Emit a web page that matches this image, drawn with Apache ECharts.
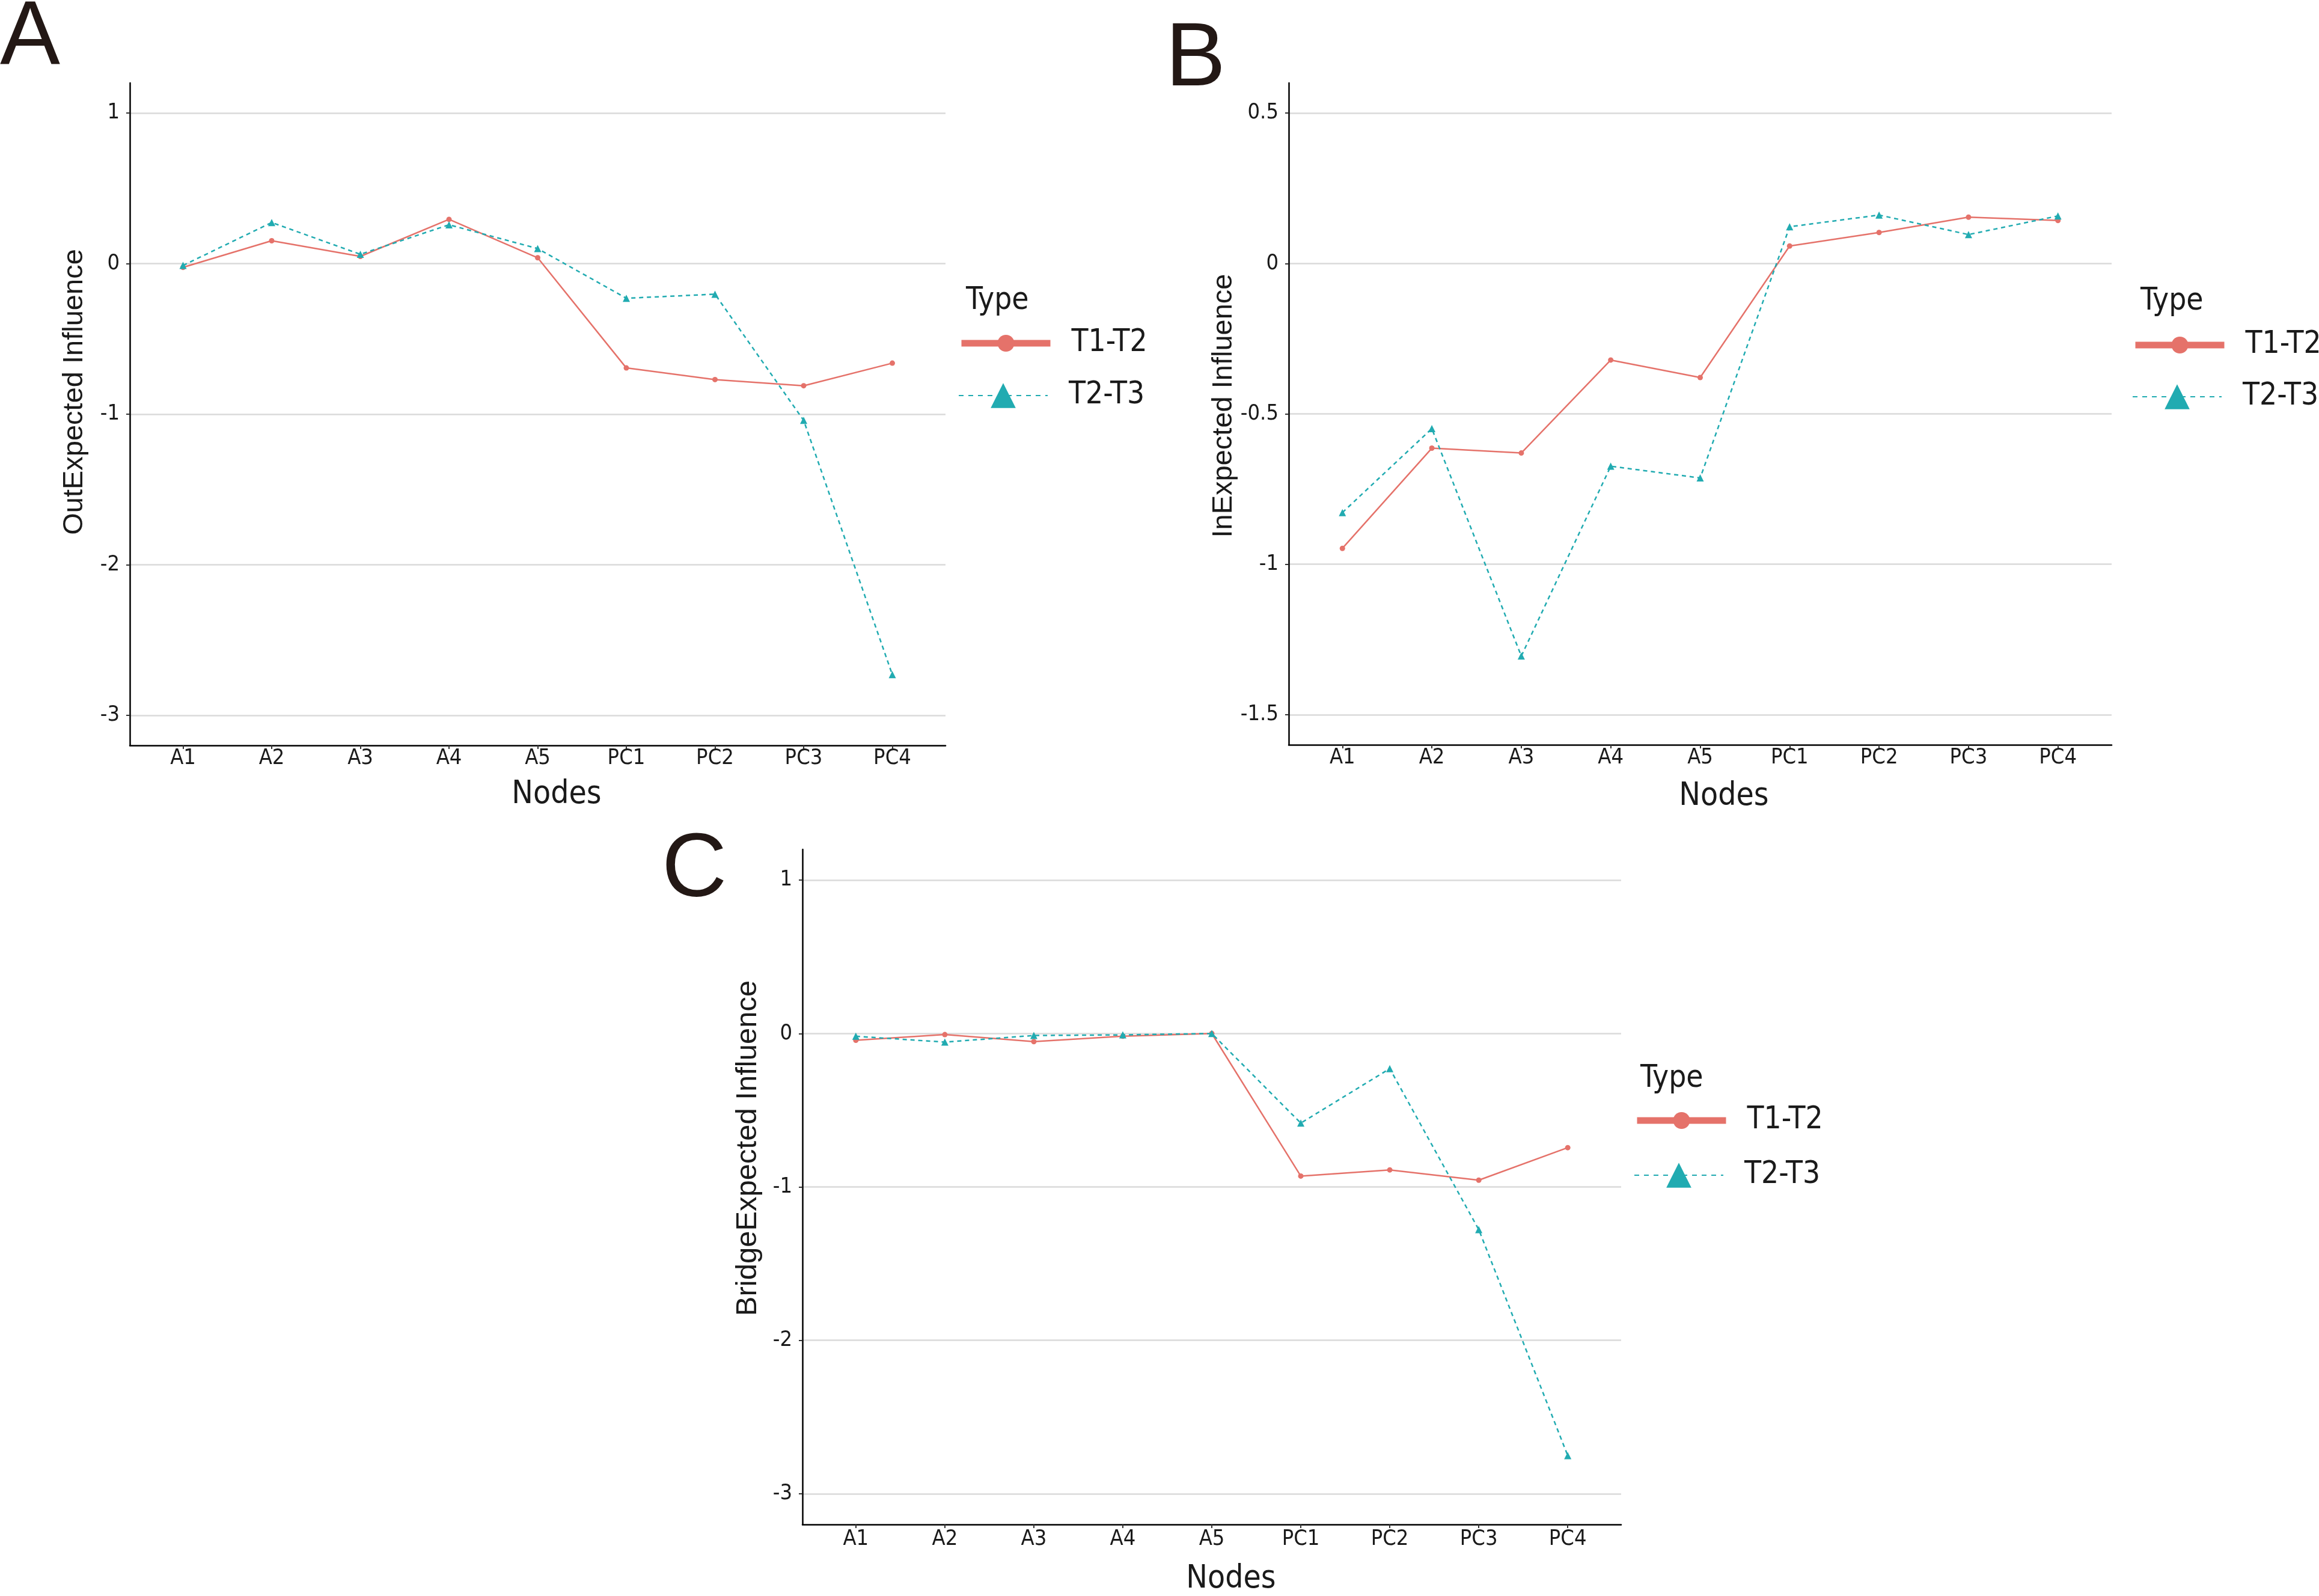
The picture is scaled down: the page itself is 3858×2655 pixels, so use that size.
<!DOCTYPE html>
<html>
<head>
<meta charset="utf-8">
<script src="https://cdn.jsdelivr.net/npm/echarts@6/dist/echarts.min.js"></script>
<style>
html,body{margin:0;padding:0;background:#ffffff;}
#chart{width:3858px;height:2655px;}
</style>
</head>
<body>
<div id="chart"></div>
<script>
// ---------------- data ----------------
const nodes = ['A1','A2','A3','A4','A5','PC1','PC2','PC3','PC4'];
const seriesNames = ['T1-T2','T2-T3'];

const outT12 = [-0.025, 0.152, 0.048, 0.294, 0.039, -0.693, -0.770, -0.811, -0.661];
const outT23 = [-0.012, 0.273, 0.062, 0.258, 0.100, -0.230, -0.203, -1.041, -2.730];

const inT12 = [-0.947, -0.614, -0.630, -0.321, -0.379, 0.058, 0.103, 0.154, 0.143];
const inT23 = [-0.828, -0.549, -1.305, -0.674, -0.713, 0.122, 0.161, 0.096, 0.158];

const bridgeT12 = [-0.044, -0.007, -0.053, -0.018, 0.000, -0.929, -0.889, -0.956, -0.744];
const bridgeT23 = [-0.018, -0.056, -0.013, -0.009, 0.000, -0.584, -0.229, -1.278, -2.751];

const yTicksOut = [-3, -2, -1, 0, 1];
const yTicksIn = [-1.5, -1, -0.5, 0, 0.5];
const yTicksBridge = [-3, -2, -1, 0, 1];

const panelLetters = ['A', 'B', 'C'];
const yTitles = ['OutExpected Influence', 'InExpected Influence', 'BridgeExpected Influence'];
const xTitle = 'Nodes';
const legendTitle = 'Type';

// ---------------- styling / layout ----------------
const RED = '#E5726A';
const TEAL = '#21ABB1';
const REG = "'Liberation Sans', Arial, Helvetica, sans-serif";
const NARROW = "'Liberation Sans Narrow', 'Arial Narrow', 'DejaVu Sans Condensed', sans-serif";
const INK = '#1a1a1a';

const panels = [
  { grid: {left: 216, top: 138, width: 1357, height: 1102}, yMin: -3.2, yMax: 1.2, ticks: yTicksOut,
    t12: outT12, t23: outT23, yNameGap: 68, yNamePad: 74, yNameSize: 47,
    xNameGap: 55, xNamePad: 63, xLabelMargin: 4,
    letter: {x: 0, y: 65}, type: {x: 1607, y: 501}, leg: {x: 1594, y1: 571, y2: 658} },
  { grid: {left: 2144, top: 138, width: 1369, height: 1101}, yMin: -1.6, yMax: 0.6, ticks: yTicksIn,
    t12: inT12, t23: inT23, yNameGap: 70, yNamePad: 27, yNameSize: 47,
    xNameGap: 59, xNamePad: 79, xLabelMargin: 4,
    letter: {x: 1939, y: 101}, type: {x: 3561, y: 502}, leg: {x: 3547, y1: 574, y2: 660} },
  { grid: {left: 1335, top: 1413, width: 1362, height: 1137}, yMin: -3.2, yMax: 1.2, ticks: yTicksBridge,
    t12: bridgeT12, t23: bridgeT23, yNameGap: 66, yNamePad: 129, yNameSize: 49,
    xNameGap: 64, xNamePad: 64, xLabelMargin: 7,
    letter: {x: 1101, y: 1450}, type: {x: 2729, y: 1795}, leg: {x: 2718, y1: 1864, y2: 1955} }
];

const grids = [], xAxes = [], yAxes = [], series = [], legends = [], graphics = [];

panels.forEach((p, k) => {
  grids.push(Object.assign({containLabel: false}, p.grid));
  xAxes.push({
    gridIndex: k, type: 'value', min: -0.6, max: 8.6,
    name: xTitle, nameLocation: 'middle', nameGap: p.xNameGap,
    nameTextStyle: {fontFamily: NARROW, fontSize: 53, lineHeight: 54, color: INK, padding: [0, 0, 0, p.xNamePad]},
    axisLine: {show: true, onZero: false, lineStyle: {color: '#000', width: 2.5}},
    axisTick: {show: true, length: 6, customValues: nodes.map((_, i) => i), lineStyle: {color: '#333', width: 2}},
    axisLabel: {show: true, customValues: nodes.map((_, i) => i), margin: p.xLabelMargin,
      fontFamily: NARROW, fontSize: 36, lineHeight: 36, color: INK,
      formatter: v => nodes[Math.round(v)] || ''},
    splitLine: {show: false}
  });
  yAxes.push({
    gridIndex: k, type: 'value', min: p.yMin, max: p.yMax,
    name: yTitles[k], nameLocation: 'middle', nameGap: p.yNameGap,
    nameTextStyle: {fontFamily: REG, fontSize: p.yNameSize, lineHeight: p.yNameSize, color: INK, padding: [0, 0, 0, p.yNamePad]},
    axisLine: {show: true, onZero: false, lineStyle: {color: '#000', width: 2.5}},
    axisTick: {show: true, length: 6, customValues: p.ticks, lineStyle: {color: '#333', width: 2}},
    axisLabel: {show: true, customValues: p.ticks, margin: 17, fontFamily: NARROW, fontSize: 36, color: INK,
      formatter: v => String(v)},
    splitLine: {show: true, lineStyle: {color: '#DADADA', width: 2.5}}
  });
  series.push({
    name: seriesNames[0], type: 'line', xAxisIndex: k, yAxisIndex: k,
    data: nodes.map((n, i) => [i, p.t12[i]]),
    symbol: 'circle', symbolSize: 9, showSymbol: true,
    itemStyle: {color: RED}, lineStyle: {color: RED, width: 2.5, type: 'solid'},
    emphasis: {disabled: true}, animation: false, z: 3
  });
  series.push({
    name: seriesNames[1], type: 'line', xAxisIndex: k, yAxisIndex: k,
    data: nodes.map((n, i) => [i, p.t23[i]]),
    symbol: 'triangle', symbolSize: 12, showSymbol: true,
    itemStyle: {color: TEAL}, lineStyle: {color: TEAL, width: 2.5, type: [7, 6]},
    emphasis: {disabled: true}, animation: false, z: 4
  });
  legends.push({
    data: [seriesNames[0]], left: p.leg.x, top: p.leg.y1 - 30, padding: 0, orient: 'horizontal',
    itemWidth: 148, itemHeight: 35, selectedMode: false,
    lineStyle: {width: 11, type: 'solid', color: RED},
    itemStyle: {color: RED},
    textStyle: {fontFamily: NARROW, fontSize: 51, lineHeight: 60, color: INK, padding: [0, 0, 0, 30]}
  });
  legends.push({
    data: [seriesNames[1]], left: p.leg.x, top: p.leg.y2 - 30, padding: 0, orient: 'horizontal',
    itemWidth: 148, itemHeight: 52, selectedMode: false,
    lineStyle: {width: 2, type: [8, 8], color: TEAL},
    itemStyle: {color: TEAL},
    textStyle: {fontFamily: NARROW, fontSize: 51, lineHeight: 60, color: INK, padding: [0, 0, 0, 30]}
  });
  graphics.push({
    type: 'text', x: p.letter.x, y: p.letter.y, silent: true,
    style: {text: panelLetters[k], fontFamily: REG, fontSize: 150, fill: '#231815', align: 'left', verticalAlign: 'middle'}
  });
  graphics.push({
    type: 'text', x: p.type.x, y: p.type.y, silent: true,
    style: {text: legendTitle, fontFamily: NARROW, fontSize: 51, fill: INK, align: 'left', verticalAlign: 'middle'}
  });
});

const chart = echarts.init(document.getElementById('chart'), null, {renderer: 'canvas'});
chart.setOption({
  backgroundColor: '#ffffff',
  animation: false,
  grid: grids,
  xAxis: xAxes,
  yAxis: yAxes,
  legend: legends,
  series: series,
  graphic: graphics
});
</script>
</body>
</html>
